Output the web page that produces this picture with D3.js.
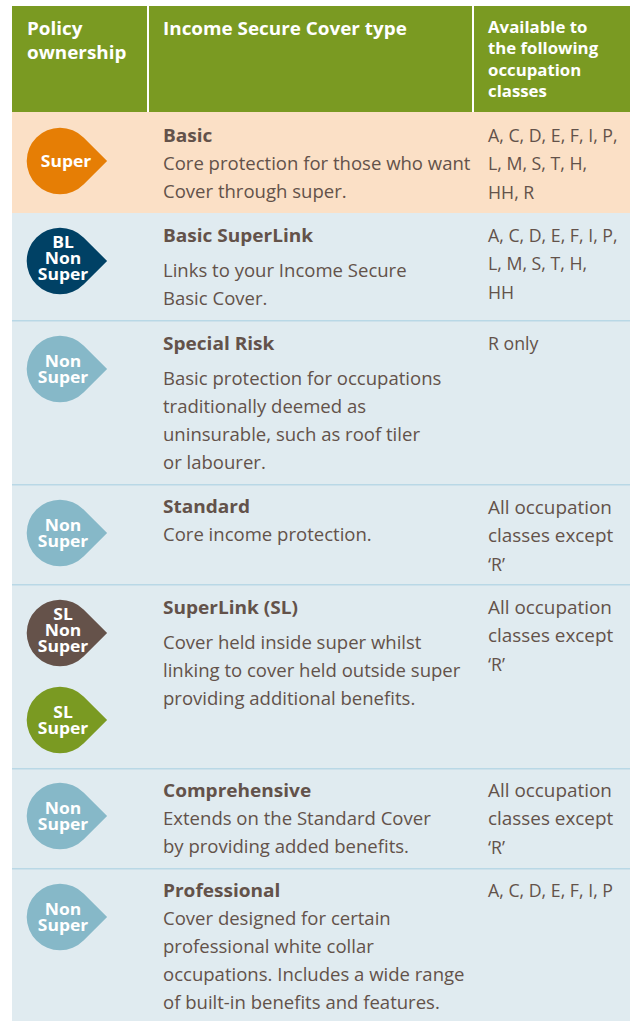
<!DOCTYPE html>
<html><head><meta charset="utf-8">
<script src="https://cdn.jsdelivr.net/npm/d3@7"></script>
<style>html,body{margin:0;padding:0;background:#fff}svg{display:block}text{font-family:"Open Sans",sans-serif}</style>
</head><body><svg id="c" width="630" height="1021"></svg>
<script>
const headers = [["Policy","ownership"],["Income Secure Cover type"],["Available to","the following","occupation","classes"]];
const titles = ["Basic","Basic SuperLink","Special Risk","Standard","SuperLink (SL)","Comprehensive","Professional"];
const descriptions = [
 ["Core protection for those who want","Cover through super."],
 ["Links to your Income Secure","Basic Cover."],
 ["Basic protection for occupations","traditionally deemed as","uninsurable, such as roof tiler","or labourer."],
 ["Core income protection."],
 ["Cover held inside super whilst","linking to cover held outside super","providing additional benefits."],
 ["Extends on the Standard Cover","by providing added benefits."],
 ["Cover designed for certain","professional white collar","occupations. Includes a wide range","of built-in benefits and features."]];
const classes = [
 ["A, C, D, E, F, I, P,","L, M, S, T, H,","HH, R"],
 ["A, C, D, E, F, I, P,","L, M, S, T, H,","HH"],
 ["R only"],
 ["All occupation","classes except","‘R’"],
 ["All occupation","classes except","‘R’"],
 ["All occupation","classes except","‘R’"],
 ["A, C, D, E, F, I, P"]];
const badges = [
 [{t:["Super"],c:"#e67e05",y:161}],
 [{t:["BL","Non","Super"],c:"#004165",y:261}],
 [{t:["Non","Super"],c:"#86b8c8",y:369}],
 [{t:["Non","Super"],c:"#86b8c8",y:533}],
 [{t:["SL","Non","Super"],c:"#65524a",y:633},{t:["SL","Super"],c:"#7a9a22",y:720}],
 [{t:["Non","Super"],c:"#86b8c8",y:816}],
 [{t:["Non","Super"],c:"#86b8c8",y:917}]];
const rowTops = [113,213,321,485,585,769,869,1021];
const titleBase = [142,242,350,513,614,797,897];
const descBase = [170,277,385,541,649,825,925];
const classBase = [142,242,350,514,614,797,897];

const svg = d3.select("#c"), INK="#63524a", GREEN="#7a9a22";
function txt(s,x,y,size,weight,fill,anchor,scale){
  svg.append("text").attr("transform",`translate(${x},${y}) scale(${scale},1)`)
   .attr("font-size",size).attr("font-weight",weight).attr("fill",fill)
   .attr("text-anchor",anchor||"start").text(s);
}
// header
[[12,146],[149,471],[474,630]].forEach(([a,b])=>svg.append("rect").attr("x",a).attr("y",6).attr("width",b-a+ (b==146?1:b==471?1:0)).attr("height",106).attr("fill",GREEN));
headers[0].forEach((s,i)=>txt(s,27,35+i*24,18.5,700,"#fff",null,1.02));
txt(headers[1][0],163,35,18.5,700,"#fff",null,1.02);
headers[2].forEach((s,i)=>txt(s,488,33+i*21.4,16,700,"#fff",null,1.05));
// rows
titles.forEach((t,i)=>{
  const y0=rowTops[i], y1=rowTops[i+1];
  svg.append("rect").attr("x",12).attr("y",y0-(i==0?1:0)).attr("width",618).attr("height",y1-y0+(i==0?1:0)).attr("fill",i==0?"#fbe0c6":"#e0ebf0");
  if(i>1) svg.append("rect").attr("x",12).attr("y",y0-1).attr("width",618).attr("height",1.5).attr("fill","#b9d8e6");
  txt(t,163,titleBase[i],18.5,700,INK,null,1.03);
  descriptions[i].forEach((s,j)=>txt(s,163,descBase[i]+j*28,18,400,INK,null,1.03));
  classes[i].forEach((s,j)=>txt(s,488,classBase[i]+j*28.3,18,400,INK,null,/^(All|classes)/.test(s)?1.05:.985));
  badges[i].forEach(b=>{
    const r=33.3,cx=60,p=d3.path(),a=Math.PI/4;
    p.moveTo(cx+r*Math.SQRT2,b.y);
    p.lineTo(cx+r*Math.cos(a),b.y+r*Math.sin(a));
    p.arc(cx,b.y,r,a,-a,false);
    p.closePath();
    svg.append("path").attr("d",p.toString()).attr("fill",b.c);
    const n=b.t.length, first=n==3?b.y-13:n==2?b.y-2:b.y+6;
    b.t.forEach((s,j)=>txt(s,s=="Super"&&n==1?66:63,first+j*16,16.5,700,"#fff","middle",1.06));
  });
});
</script></body></html>
